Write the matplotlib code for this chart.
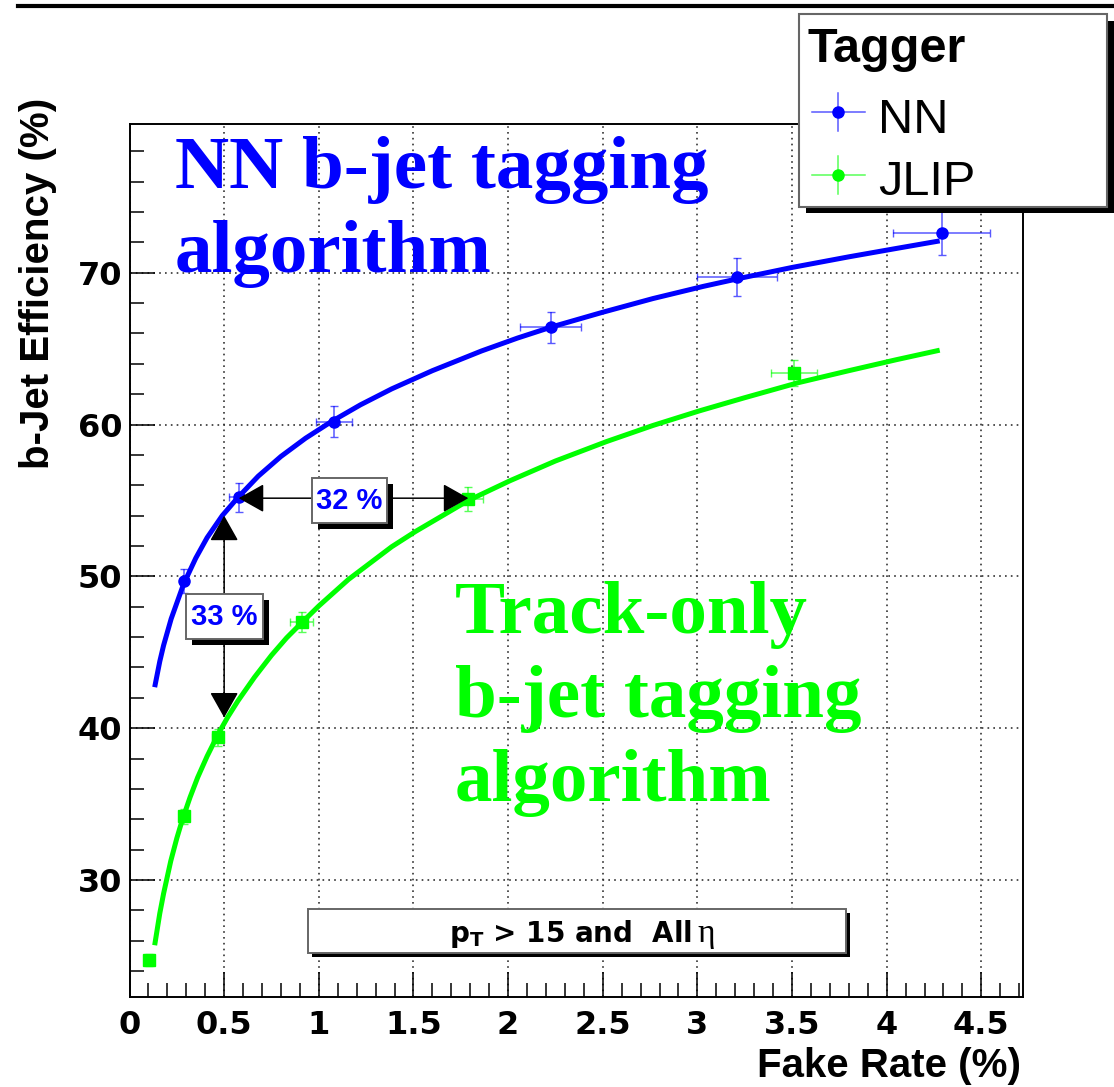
"""b-jet tagging performance: efficiency vs. fake rate for the NN and JLIP taggers."""
import matplotlib

matplotlib.use("Agg")
import matplotlib.pyplot as plt
from matplotlib.lines import Line2D
from matplotlib.patches import Rectangle
from matplotlib.ticker import MultipleLocator
from matplotlib.transforms import offset_copy

plt.rcParams["mathtext.fontset"] = "custom"
plt.rcParams["mathtext.bf"] = "DejaVu Sans:bold"
plt.rcParams["mathtext.rm"] = "DejaVu Sans"

# --- measured points (fake rate %, b-jet efficiency %) ---
nn_rate = [0.286, 0.577, 1.078, 2.224, 3.21, 4.29]
nn_eff = [49.7, 55.2, 60.2, 66.4, 69.7, 72.6]
nn_rate_err = [0.015, 0.05, 0.095, 0.16, 0.21, 0.255]
nn_eff_err = [0.8, 0.95, 1.0, 1.0, 1.25, 1.45]

jlip_rate = [0.105, 0.286, 0.465, 0.91, 1.79, 3.51]
jlip_eff = [24.7, 34.2, 39.4, 47.0, 55.1, 63.4]
jlip_rate_err = [0.01, 0.015, 0.03, 0.06, 0.08, 0.12]
jlip_eff_err = [0.4, 0.5, 0.55, 0.65, 0.8, 0.85]

# --- fitted curves ---
nn_fit_x = [0.133, 0.16, 0.18, 0.22, 0.286, 0.35, 0.41, 0.49, 0.573, 0.68, 0.80,
            0.93, 1.067, 1.22, 1.385, 1.6, 1.86, 2.05, 2.235, 2.5, 2.765, 3.03,
            3.23, 3.5, 3.8, 4.05, 4.28]
nn_fit_y = [42.7, 44.4, 45.45, 47.2, 49.5, 51.2, 52.55, 54.0, 55.2, 56.6, 57.9,
            59.1, 60.2, 61.3, 62.35, 63.55, 64.85, 65.7, 66.45, 67.4, 68.3, 69.1,
            69.65, 70.35, 71.05, 71.6, 72.1]

jlip_fit_x = [0.133, 0.16, 0.18, 0.218, 0.25, 0.28, 0.32, 0.36, 0.41, 0.47, 0.52,
              0.573, 0.66, 0.75, 0.83, 0.91, 1.0, 1.157, 1.385, 1.51, 1.79, 2.01,
              2.25, 2.52, 2.765, 3.01, 3.25, 3.53, 3.8, 4.05, 4.28]
jlip_fit_y = [25.7, 27.8, 29.1, 31.25, 32.75, 34.0, 35.45, 36.75, 38.15, 39.65, 40.75,
              41.8, 43.35, 44.8, 45.95, 46.95, 48.05, 49.8, 51.95, 52.95, 55.0, 56.3,
              57.6, 58.88, 59.94, 60.9, 61.77, 62.75, 63.55, 64.27, 64.9]

x_ticks = [0, 0.5, 1, 1.5, 2, 2.5, 3, 3.5, 4, 4.5]
x_tick_labels = ["0", "0.5", "1", "1.5", "2", "2.5", "3", "3.5", "4", "4.5"]
y_ticks = [30, 40, 50, 60, 70]
y_tick_labels = ["30", "40", "50", "60", "70"]

BLUE = "#0000ff"
GREEN = "#00ff00"

W, H = 1114, 1087


def fx(px):
    return px / W


def fy(py):
    return 1 - py / H


fig = plt.figure(figsize=(W / 100, H / 100), dpi=100)
ax = fig.add_axes([fx(129.5), fy(997), (1023 - 129.5) / W, (997 - 124) / H])
ax.set_xlim(0, 4.72)
ax.set_ylim(22.29, 79.8)

# grid and ticks
ax.grid(True, which="major", linestyle=(0, (1, 2.5)), color="#333333", linewidth=1.2)
ax.set_xticks(x_ticks)
ax.set_xticklabels(x_tick_labels, fontsize=23, fontweight="bold")
ax.set_yticks(y_ticks)
ax.set_yticklabels(y_tick_labels, fontsize=23, fontweight="bold")
ax.xaxis.set_minor_locator(MultipleLocator(0.1))
ax.yaxis.set_minor_locator(MultipleLocator(2))
ax.tick_params(which="major", direction="in", length=18, width=1.1)
ax.tick_params(which="minor", direction="in", length=10, width=1.1)
ax.tick_params(axis="x", which="major", pad=9)
ax.tick_params(axis="y", which="major", pad=5)
for s in ax.spines.values():
    s.set_linewidth(1.4)

# fits
ax.plot(nn_fit_x, nn_fit_y, color=BLUE, lw=3.6, solid_capstyle="butt",
        solid_joinstyle="round", zorder=3)
ax.plot(jlip_fit_x, jlip_fit_y, color=GREEN, lw=3.6, solid_capstyle="butt",
        solid_joinstyle="round", zorder=3)

# points with errors
ax.errorbar(nn_rate, nn_eff, xerr=nn_rate_err, yerr=nn_eff_err, fmt="none",
            ecolor=BLUE, alpha=0.65, elinewidth=1.1, capsize=3, zorder=4)
ax.plot(nn_rate, nn_eff, "o", color=BLUE, ms=8, zorder=4)
ax.errorbar(jlip_rate, jlip_eff, xerr=jlip_rate_err, yerr=jlip_eff_err, fmt="none",
            ecolor=GREEN, alpha=0.65, elinewidth=1.1, capsize=3, zorder=4)
ax.plot(jlip_rate, jlip_eff, "s", color=GREEN, ms=8.5, zorder=4)

# comparison arrows
arrow_style = "<|-|>,head_length=1.6,head_width=0.9"
ax.annotate("", xy=(0.577, 55.15), xytext=(1.79, 55.15),
            arrowprops=dict(arrowstyle=arrow_style, color="black", lw=1.1,
                            mutation_scale=10, shrinkA=0, shrinkB=0), zorder=5)
ax.annotate("", xy=(0.5, 54.0), xytext=(0.5, 40.7),
            arrowprops=dict(arrowstyle=arrow_style, color="black", lw=1.1,
                            mutation_scale=10, shrinkA=0, shrinkB=0), zorder=5)

shadow6 = offset_copy(ax.transData, fig=fig, x=6, y=-6, units="dots")
shadow4 = offset_copy(ax.transData, fig=fig, x=4, y=-4, units="dots")


def label_box(x0, x1, y0, y1, shadow_tr, z=6):
    ax.add_patch(Rectangle((x0, y0), x1 - x0, y1 - y0, transform=shadow_tr,
                           facecolor="black", edgecolor="none", zorder=z))
    ax.add_patch(Rectangle((x0, y0), x1 - x0, y1 - y0, facecolor="white",
                           edgecolor="#666666", lw=1.4, zorder=z + 0.1))


label_box(0.964, 1.360, 53.49, 56.45, shadow6)
ax.text(1.162, 54.95, "32 %", color=BLUE, fontsize=21, fontweight="bold",
        family="Liberation Sans", ha="center", va="center", zorder=7)
label_box(0.298, 0.705, 45.85, 48.81, shadow6)
ax.text(0.50, 47.3, "33 %", color=BLUE, fontsize=21, fontweight="bold",
        family="Liberation Sans", ha="center", va="center", zorder=7)

# selection label
label_box(0.943, 3.785, 25.19, 28.09, shadow4)
t_sel = ax.text(2.33, 26.45, r"$\mathbf{p}_\mathbf{T}$ > 15 and  All", fontsize=20,
                fontweight="bold", family="DejaVu Sans", ha="center", va="center",
                zorder=7)
ax.annotate("η", xy=(1, 0.5), xycoords=t_sel, xytext=(4, 0), textcoords="offset points",
            fontsize=24, family="Liberation Serif", ha="left", va="center", zorder=7)

# big descriptive texts
big = dict(fontsize=54, fontweight="bold", family="Liberation Serif", va="baseline")
fig.text(fx(175), fy(188), "NN b-jet tagging", color=BLUE, **big)
fig.text(fx(175), fy(272), "algorithm", color=BLUE, **big)
fig.text(fx(455), fy(633), "Track-only", color=GREEN, **big)
fig.text(fx(455), fy(717), "b-jet tagging", color=GREEN, **big)
fig.text(fx(455), fy(801), "algorithm", color=GREEN, **big)

# axis titles
fig.text(fx(1021), fy(1066), "Fake Rate (%)", fontsize=29, fontweight="bold",
         family="Liberation Sans", ha="right", va="center")
fig.text(fx(38), fy(98), "b-Jet Efficiency (%)", fontsize=29, fontweight="bold",
         family="Liberation Sans", rotation=90, ha="center", va="top")

# frame line at top
fig.add_artist(Line2D([fx(18), 1], [fy(6), fy(6)], color="black", lw=3))

# legend
fig.add_artist(Rectangle((fx(806), fy(213)), (1114 - 806) / W, (213 - 21) / H,
                         transform=fig.transFigure, facecolor="black", edgecolor="none"))
fig.add_artist(Rectangle((fx(799), fy(207)), (1107 - 799) / W, (207 - 14) / H,
                         transform=fig.transFigure, facecolor="white",
                         edgecolor="#666666", lw=1.5))
fig.text(fx(807), fy(62), "Tagger", fontsize=35, fontweight="bold",
         family="Liberation Sans", va="baseline")
for name, color, yc, base in [("NN", BLUE, 112, 133), ("JLIP", GREEN, 175, 195)]:
    fig.add_artist(Line2D([fx(812), fx(865)], [fy(yc), fy(yc)], color=color,
                          alpha=0.65, lw=1.1))
    fig.add_artist(Line2D([fx(838), fx(838)], [fy(yc - 19), fy(yc + 19)], color=color,
                          alpha=0.65, lw=1.1))
    fig.add_artist(Line2D([fx(838)], [fy(yc)], marker="o", ms=8, color=color))
    fig.text(fx(878), fy(base), name, fontsize=35, family="Liberation Sans",
             va="baseline")

fig.savefig("out.png", dpi=100)
